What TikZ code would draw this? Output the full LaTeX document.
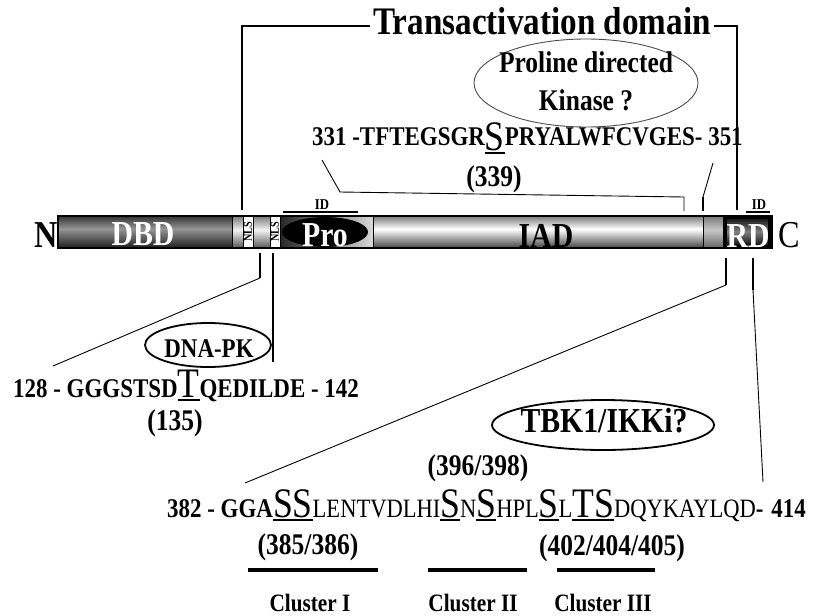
\documentclass[tikz,border=0pt]{standalone}
\usepackage{fontspec}
\setmainfont{Liberation Serif}[FakeStretch=0.85]
\usetikzlibrary{shapes.geometric}

% font size helper (1pt = one unit of the drawing)
\newcommand\fs[1]{\fontsize{#1}{#1}\selectfont}
% enlarged, underlined phosphorylation site
\newcommand\bigres[1]{{\fs{42}\mdseries\setbox0\hbox{#1}\rlap{\rule[-3.5pt]{\wd0}{1.6pt}}\box0}}
% smaller, regular-weight residues
\newcommand\smres[1]{{\fs{26.5}\mdseries #1}}
% vertical grey gradient built from thin strips:
% #1 left x, #2 right x, #3 top y, #4 number of 1pt strips,
% #5 top level, #6 middle level, #7 bottom level (percent black), #8 middle position (0..1)
\newcommand\vgrad[8]{%
  \foreach \i in {1,...,#4}{%
    \pgfmathsetmacro\tpos{(\i-0.5)/#4}%
    \pgfmathtruncatemacro\lev{\tpos<#8 ? #5+(#6-#5)*\tpos/#8 : #6+(#7-#6)*(\tpos-#8)/(1-#8)}%
    \fill[black!\lev] (#1,#3+\i-1) rectangle (#2,#3+\i+0.05);
  }}

\begin{document}
\begin{tikzpicture}[x=1pt,y=-1pt,
  every node/.style={inner sep=0pt},
  thinline/.style={line width=0.9pt},
  stub/.style={line width=1.8pt},
  bracketline/.style={line width=2pt},
  sep/.style={line width=0.8pt},
  seqtext/.style={anchor=base west, font=\fs{27}\bfseries},
  num/.style={anchor=base, font=\fs{30}\bfseries},
  barlabel/.style={anchor=base, font=\fs{35}\bfseries},
  kinase/.style={ellipse, draw, line width=1.8pt},
  cluster/.style={line width=4pt},
  clusterlabel/.style={anchor=base, font=\fs{25}\bfseries, text depth=0pt},
  idlabel/.style={anchor=base, font=\fs{15}\bfseries},
  nls/.style={rotate=90, font=\fs{12}\bfseries}]
\useasboundingbox (0,0) rectangle (818,615);
\fill[white] (0,0) rectangle (818,615);

% ---------------- protein bar ----------------
% DBD
\vgrad{58}{232}{216}{32}{82}{42}{88}{0.42}
% spacers around the NLS boxes
\vgrad{232}{243}{216}{32}{55}{5}{65}{0.45}
\vgrad{253}{270}{216}{32}{55}{5}{65}{0.45}
% NLS boxes
\fill[white] (243,217) rectangle (253,247);
\fill[white] (270,217) rectangle (280,247);
\node[nls] (nls1) at (248,232) {NLS};
\node[nls] (nls2) at (275,232) {NLS};
% proline-rich region
\shade[left color=black!85, right color=black!15] (280,216) rectangle (373,248);
\node[ellipse, fill=black, minimum width=86pt, minimum height=30pt] (proell) at (325,232) {};
% IAD
\vgrad{373}{703}{216}{32}{55}{0}{72}{0.42}
% linker before RD
\vgrad{703}{723}{216}{32}{55}{22}{60}{0.45}
% RD
\fill[black] (723,216) rectangle (772,248);
\vgrad{727}{768}{219}{26}{92}{50}{92}{0.5}
% outline and dividers
\draw[line width=1.4pt] (58,216) rectangle (772,248);
\foreach \xx in {232,243,253,270,280,373,703,723}
  \draw[sep] (\xx,216) -- (\xx,248);

\node[barlabel, text=white] (dbd) at (143,245) {DBD};
\node[barlabel, text=white] (pro) at (325,246) {Pro};
\node[barlabel] (iad) at (546,247) {IAD};
\node[barlabel, text=white] (rd) at (748,247) {RD};
\node[anchor=base, font=\fs{38}\bfseries] (nterm) at (46,247) {N};
\node[anchor=base, font=\fs{38}] (cterm) at (789,247) {C};

% ID marks
\coordinate (idPa) at (283,212); \coordinate (idPb) at (358,212);
\draw[line width=1.3pt] (idPa) -- (idPb);
\node[idlabel] (idP) at (322,209) {ID};
\coordinate (idRa) at (746,212); \coordinate (idRb) at (770,212);
\draw[line width=1.3pt] (idRa) -- (idRb);
\node[idlabel] (idR) at (759,209) {ID};

% ---------------- transactivation domain bracket ----------------
\node[anchor=base, font=\fs{39}\bfseries, inner xsep=3pt] (tad) at (542,35) {Transactivation domain};
\coordinate (tadL) at (242,210);
\coordinate (tadLtop) at (242,26);
\coordinate (tadR) at (737,210);
\coordinate (tadRtop) at (737,26);
\draw[bracketline] (tadL) -- (tadLtop) -- (tadLtop -| tad.west);
\draw[bracketline] (tadR) -- (tadRtop) -- (tadRtop -| tad.east);

% ---------------- proline directed kinase / S339 ----------------
\node[ellipse, draw=black!70, line width=0.9pt, minimum width=224pt, minimum height=88pt] (pdk) at (586,83) {};
\node[font=\fontsize{30}{38}\selectfont\bfseries, align=center] (pdktext) at (586,81) {Proline directed\\Kinase ?};

\node[seqtext] (s331) at (312,145) {331 -TFTEGSGR\raisebox{-5pt}{\bigres{S}}PRYALWFCVGES- 351};
\node[num] (p339) at (494,186) {(339)};

\coordinate (a331) at (322,160);
\coordinate (a331b) at (340,192);
\coordinate (a331c) at (684,197);
\coordinate (a331d) at (684,211);
\draw[thinline] (a331) -- (a331b) -- (a331c) -- (a331d);
\coordinate (a351) at (713,163);
\coordinate (a351b) at (703,197);
\coordinate (a351c) at (703,211);
\draw[thinline] (a351) -- (a351b);
\draw[stub] (a351b) -- (a351c);

% ---------------- DNA-PK / T135 ----------------
\coordinate (n1top) at (260,253);
\coordinate (n1bend) at (260,278);
\coordinate (n1end) at (53,366);
\coordinate (n2top) at (273,253);
\coordinate (n2end) at (273,362);
\draw[stub] (n1top) -- (n1bend);
\draw[thinline] (n1bend) -- (n1end);
\draw[line width=1.3pt] (n2top) -- (n2end);

\node[kinase, minimum width=126pt, minimum height=44pt] (dnapk) at (208,345) {};
\node[anchor=base, font=\fs{27}\bfseries] (dnapktext) at (209,357) {DNA-PK};

\node[seqtext] (s128) at (13,397) {128 - GGGSTSD\bigres{T}QEDILDE - 142};
\node[num] (p135) at (175,430) {(135)};

% ---------------- TBK1/IKKi / C-terminal cluster ----------------
\coordinate (r1top) at (726,258);
\coordinate (r1bend) at (726,285);
\coordinate (r1end) at (245,483);
\coordinate (r2top) at (753,258);
\coordinate (r2bend) at (753,290);
\coordinate (r2end) at (763,482);
\draw[stub] (r1top) -- (r1bend);
\draw[thinline] (r1bend) -- (r1end);
\draw[stub] (r2top) -- (r2bend);
\draw[thinline] (r2bend) -- (r2end);

\node[kinase, minimum width=222pt, minimum height=50pt] (tbk) at (603,425) {};
\node[anchor=base, font=\fs{35}\bfseries] (tbktext) at (604,432) {TBK1/IKKi?};

\node[num] (p396) at (478,475) {(396/398)};
\node[seqtext] (s382) at (167,517) {382 - GGA\bigres{SS}\smres{LENTVDLHI}\bigres{S}\smres{N}\bigres{S}\smres{HPL}\bigres{S}\smres{L}\bigres{TS}\smres{DQYKAYLQD}-\hspace{2pt} 414};
\node[num] (p385) at (308,554) {(385/386)};
\node[num] (p402) at (612,555) {(402/404/405)};

\coordinate (c1a) at (248,570); \coordinate (c1b) at (378,570);
\coordinate (c2a) at (428,570); \coordinate (c2b) at (527,570);
\coordinate (c3a) at (557,570); \coordinate (c3b) at (655,570);
\draw[cluster] (c1a) -- (c1b);
\draw[cluster] (c2a) -- (c2b);
\draw[cluster] (c3a) -- (c3b);
\node[clusterlabel] (cl1) at (310,611) {Cluster I};
\node[clusterlabel] (cl2) at (473,611) {Cluster II};
\node[clusterlabel] (cl3) at (603,611) {Cluster III};
\end{tikzpicture}
\end{document}
